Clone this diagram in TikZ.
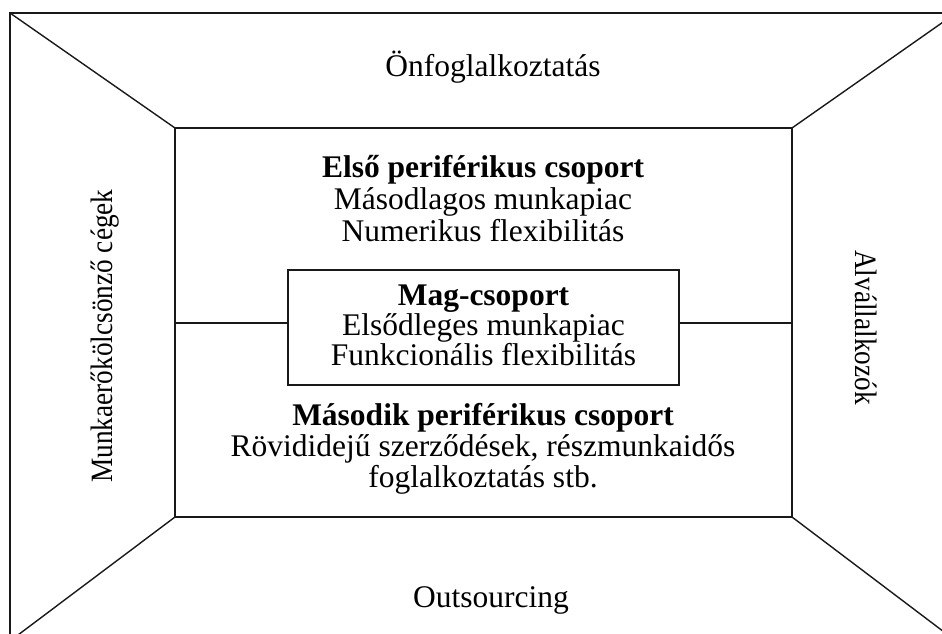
\documentclass[tikz,border=0pt]{standalone}
\usepackage{fontspec}
\setmainfont{Liberation Serif}
\usepackage{graphicx}
\begin{document}
\begin{tikzpicture}[x=1pt,y=-1pt,
  frame/.style={draw=black!90,line width=1.4pt,inner sep=0pt,outer sep=0pt},
  edge/.style={draw=black!90,line width=1.4pt},
  txt/.style={anchor=base,inner sep=0pt,font=\fontsize{31.5}{32}\selectfont},
  vtxt/.style={anchor=base,inner sep=0pt,font=\fontsize{31}{31}\selectfont}]
\newcommand{\narrow}[1]{\scalebox{0.88}[1]{#1}}
\useasboundingbox (0,0) rectangle (942,634);
\clip (0,0) rectangle (942,634);

% frames: outer room, inner wall and central core box
\node[frame,minimum width=946pt,minimum height=628pt] (outer) at (483,327) {};
\node[frame,minimum width=617pt,minimum height=389pt] (inner) at (483.5,322.5) {};
\node[frame,minimum width=391pt,minimum height=115pt,fill=white] (core) at (483.5,327.5) {};

% perspective edges
\draw[edge] (outer.north west) -- (inner.north west);
\draw[edge] (outer.north east) -- (inner.north east);
\draw[edge] (outer.south west) -- (inner.south west);
\draw[edge] (outer.south east) -- (inner.south east);

% links from the core box to the side walls
\coordinate (lj) at (175,323);
\coordinate (rj) at (792,323);
\draw[edge] (lj) -- (core.west |- lj);
\draw[edge] (core.east |- rj) -- (rj);

% top and bottom bands
\node[txt] (self) at (493,77) {Önfoglalkoztatás};
\node[txt] (outs) at (491,607) {Outsourcing};

% first peripheral group
\node[txt] (p1a) at (483,177) {\bfseries Első periférikus csoport};
\node[txt] (p1b) at (483,209) {Másodlagos munkapiac};
\node[txt] (p1c) at (483,241) {Numerikus flexibilitás};

% core group
\node[txt] (c1) at (483.5,305) {\bfseries Mag-csoport};
\node[txt] (c2) at (483.5,335) {Elsődleges munkapiac};
\node[txt] (c3) at (483.5,365) {Funkcionális flexibilitás};

% second peripheral group
\node[txt] (p2a) at (483,425) {\bfseries Második periférikus csoport};
\node[txt] (p2b) at (483,456) {Rövididejű szerződések, részmunkaidős};
\node[txt] (p2c) at (483,487) {foglalkoztatás stb.};

% side walls
\node[vtxt,rotate=90] (agency) at (112,336) {\narrow{Munkaerőkölcsönző cégek}};
\node[vtxt,rotate=-90] (subc) at (855,327.5) {\narrow{Alvállalkozók}};
\end{tikzpicture}
\end{document}
